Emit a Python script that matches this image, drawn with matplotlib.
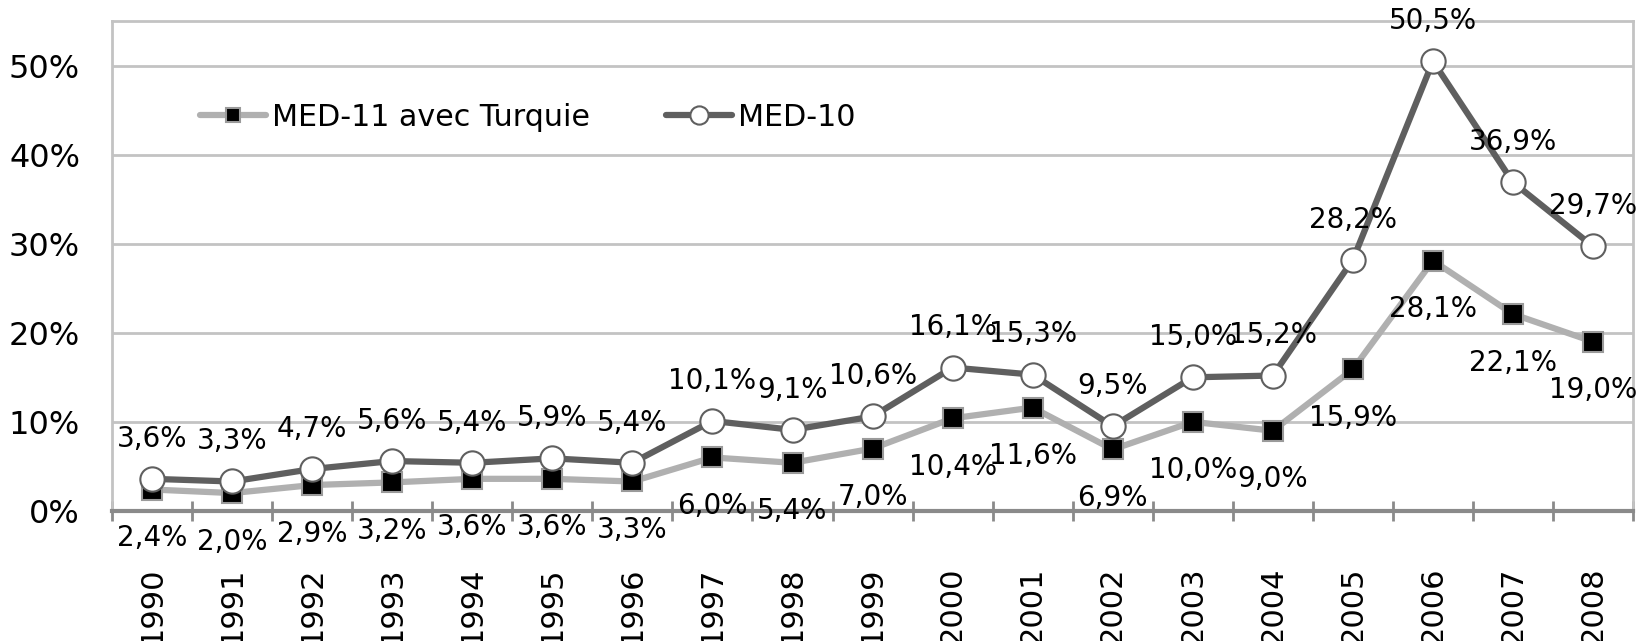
import numpy as np
import matplotlib

matplotlib.use("Agg")
import matplotlib.pyplot as plt
from matplotlib.ticker import FixedLocator, FuncFormatter

years = ["1990", "1991", "1992", "1993", "1994", "1995", "1996", "1997", "1998", "1999",
         "2000", "2001", "2002", "2003", "2004", "2005", "2006", "2007", "2008"]
med11 = [2.4, 2.0, 2.9, 3.2, 3.6, 3.6, 3.3, 6.0, 5.4, 7.0,
         10.4, 11.6, 6.9, 10.0, 9.0, 15.9, 28.1, 22.1, 19.0]
med10 = [3.6, 3.3, 4.7, 5.6, 5.4, 5.9, 5.4, 10.1, 9.1, 10.6,
         16.1, 15.3, 9.5, 15.0, 15.2, 28.2, 50.5, 36.9, 29.7]
series_names = ["MED-11 avec Turquie", "MED-10"]
y_ticks = [0, 10, 20, 30, 40, 50]

plt.rcParams["font.family"] = ["DejaVu Sans"]

DARK = "#5f5f5f"
LIGHT = "#b0b0b0"
GRID = "#c3c3c3"


def fmt_pct(v):
    return f"{v:.1f}".replace(".", ",") + "%"


fig = plt.figure(figsize=(16.38, 6.41), dpi=100)
ax = fig.add_axes([0.0684, 0.203, 0.997 - 0.0684, 0.967 - 0.203])

x = np.arange(len(years))

ax.plot(x, med11, color=LIGHT, lw=4.5, marker="s", markersize=14,
        markerfacecolor="black", markeredgecolor="#9a9a9a", markeredgewidth=1.5,
        label=series_names[0], zorder=3, solid_capstyle="round")
ax.plot(x, med10, color=DARK, lw=4.5, marker="o", markersize=17.5,
        markerfacecolor="white", markeredgecolor=DARK, markeredgewidth=1.5,
        label=series_names[1], zorder=4, solid_capstyle="round")

# data labels: MED-10 above, MED-11 below
for xi, v in zip(x, med10):
    ax.annotate(fmt_pct(v), (xi, v), xytext=(0, 29), textcoords="offset points",
                ha="center", va="center", fontsize=20, zorder=6)
for xi, v in zip(x, med11):
    ax.annotate(fmt_pct(v), (xi, v), xytext=(0, -35), textcoords="offset points",
                ha="center", va="center", fontsize=20, zorder=6)

ax.set_xlim(-0.5, len(years) - 0.5)
ax.set_ylim(0, 55)

ax.yaxis.set_major_locator(FixedLocator(y_ticks))
ax.yaxis.set_major_formatter(FuncFormatter(lambda v, p: f"{v:.0f}%"))
ax.tick_params(axis="y", length=0, pad=23, labelsize=23)
ax.grid(True, axis="y", color=GRID, lw=2)
ax.set_axisbelow(True)

ax.set_xticks(x)
ax.set_xticklabels(years, rotation=90, va="top", ha="center")
ax.tick_params(axis="x", which="major", length=0, pad=40, labelsize=22)
ax.set_xticks(np.arange(-0.5, len(years)), minor=True)
ax.tick_params(axis="x", which="minor", direction="inout", length=14,
               width=2, color="#8a8a8a")

for side in ["top", "left", "right"]:
    ax.spines[side].set_color(GRID)
    ax.spines[side].set_linewidth(2)
ax.spines["bottom"].set_color("#8a8a8a")
ax.spines["bottom"].set_linewidth(3)
ax.spines["bottom"].set_zorder(2.5)

ax.legend(loc="center left", bbox_to_anchor=(0.048, 0.804), ncol=2, frameon=False,
          fontsize=21.7, borderpad=0, handlelength=2.2, handletextpad=0.2,
          columnspacing=2.5, markerscale=0.75, numpoints=1)

plt.savefig("out.png", dpi=100)
plt.close()
